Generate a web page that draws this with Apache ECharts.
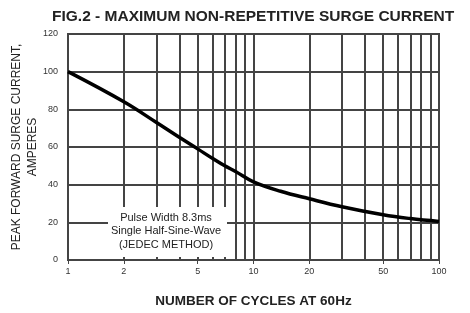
<!DOCTYPE html>
<html>
<head>
<meta charset="utf-8">
<script src="https://cdn.jsdelivr.net/npm/echarts@6/dist/echarts.min.js"></script>
<style>
  html, body { margin: 0; padding: 0; background: #fff; }
  #chart { width: 470px; height: 313px; }
</style>
</head>
<body>
<div id="chart"></div>
<script>
// surge current vs number of cycles
var cycles = [1, 2, 3, 4, 5, 6, 7, 8, 10, 14, 20, 30, 50, 70, 100];
var amps = [100, 84, 73, 65, 59, 54, 50, 47, 41.5, 36.5, 32.5, 28.3, 24, 22, 20.5];
var xLabels = [1, 2, 5, 10, 20, 50, 100];
var xGrid = [2, 3, 4, 5, 6, 7, 8, 9, 10, 20, 30, 40, 50, 60, 70, 80, 90];

var chart = echarts.init(document.getElementById('chart'));

var curve = [];
for (var i = 0; i < cycles.length; i++) {
    curve.push([cycles[i], amps[i]]);
}

chart.setOption({
    animation: false,
    textStyle: { fontFamily: 'Liberation Sans' },
    title: {
        text: 'FIG.2 - MAXIMUM NON-REPETITIVE SURGE CURRENT',
        left: 47,
        top: 4,
        textStyle: { fontSize: 15.5, fontWeight: 'bold', color: '#222' }
    },
    grid: {
        left: 68, right: 31, top: 34, bottom: 53,
        containLabel: false,
        outerBoundsMode: 'none',
        show: true,
        borderColor: '#444',
        borderWidth: 2
    },
    xAxis: {
        type: 'log',
        logBase: 10,
        min: 1,
        max: 100,
        name: 'NUMBER OF CYCLES AT 60Hz',
        nameLocation: 'middle',
        nameGap: 34,
        nameMoveOverlap: false,
        nameTextStyle: { fontSize: 13.5, fontWeight: 'bold', color: '#222' },
        axisLine: { show: false },
        axisTick: { show: true, customValues: xLabels, length: 4, lineStyle: { color: '#444' } },
        axisLabel: { customValues: xLabels, fontSize: 9, color: '#333', margin: 7 },
        splitLine: { show: false }
    },
    yAxis: {
        type: 'value',
        min: 0,
        max: 120,
        interval: 20,
        name: 'PEAK FORWARD SURGE CURRENT,\nAMPERES',
        nameLocation: 'middle',
        nameGap: 27,
        nameMoveOverlap: false,
        nameRotate: 90,
        nameTextStyle: { fontSize: 12, color: '#222', lineHeight: 16 },
        axisLine: { show: false },
        axisTick: { show: false },
        axisLabel: { fontSize: 9, color: '#333', margin: 10 },
        splitLine: { lineStyle: { color: '#444', width: 2 } }
    },
    series: [{
        type: 'line',
        data: curve,
        smooth: 0.4,
        symbol: 'none',
        lineStyle: { color: '#000', width: 3.5 },
        z: 5,
        markLine: {
            silent: true,
            symbol: 'none',
            label: { show: false },
            lineStyle: { color: '#444', width: 2, type: 'solid' },
            data: xGrid.map(function (v) { return { xAxis: v }; })
        }
    }],
    graphic: [{
        type: 'rect',
        shape: { x: 108, y: 207, width: 119, height: 50 },
        style: { fill: '#fff' },
        z: 10
    }, {
        type: 'text',
        x: 166,
        y: 211,
        z: 11,
        style: {
            text: 'Pulse Width 8.3ms\nSingle Half-Sine-Wave\n(JEDEC METHOD)',
            fontSize: 11,
            lineHeight: 13.5,
            fill: '#222',
            align: 'center',
            fontFamily: 'Liberation Sans'
        }
    }]
});
</script>
</body>
</html>
